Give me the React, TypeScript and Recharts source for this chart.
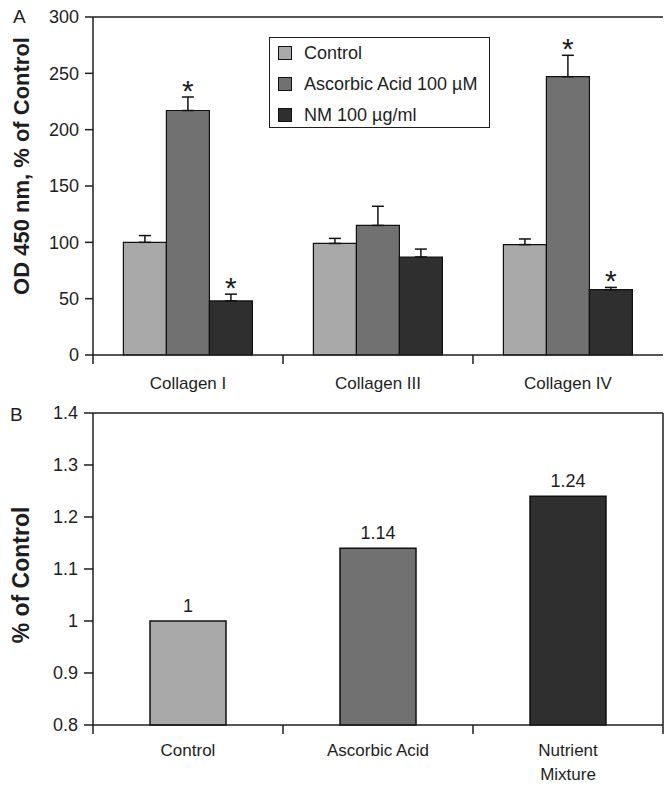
import { Bar, BarChart, Cell, ErrorBar, Label, LabelList, ReferenceLine, XAxis, YAxis } from "recharts";

const collagenTypes = ["Collagen I", "Collagen III", "Collagen IV"];
const seriesNames = ["Control", "Ascorbic Acid 100 µM", "NM 100 µg/ml"];
const controlValues = [100, 99, 98];
const controlErr = [6, 4.5, 5];
const ascorbicValues = [217, 115, 247];
const ascorbicErr = [12, 17, 19];
const nmValues = [48, 87, 58];
const nmErr = [6, 7, 2];
const ascorbicStars = ["*", "", "*"];
const nmStars = ["*", "", "*"];
const topTicks = [0, 50, 100, 150, 200, 250, 300];

const treatments = ["Control", "Ascorbic Acid", "Nutrient\nMixture"];
const ratioValues = [1, 1.14, 1.24];
const bottomTicks = [0.8, 0.9, 1, 1.1, 1.2, 1.3, 1.4];

const seriesFills = ["#a9a9a9", "#717171", "#2f2f2f"];
const FONT = '"Liberation Sans", Arial, sans-serif';
const INK = "#1e1e1e";

const topData = collagenTypes.map((name, i) => ({
  name,
  control: controlValues[i],
  controlErr: [0, controlErr[i]],
  ascorbic: ascorbicValues[i],
  ascorbicErr: [0, ascorbicErr[i]],
  nm: nmValues[i],
  nmErr: [0, nmErr[i]],
  ascorbicStar: ascorbicStars[i],
  nmStar: nmStars[i],
}));

const bottomData = treatments.map((name, i) => ({ name, value: ratioValues[i], label: String(ratioValues[i]) }));

// category label in the middle, small tick marks on the band boundaries
function CatTick(props: any) {
  const { x, y, payload, index, visibleTicksCount, closeRight, labelDy } = props;
  const half = payload && payload.offset > 0 ? payload.offset : 95;
  const lines = String(payload.value).split("\n");
  const last = index === (visibleTicksCount ?? 3) - 1;
  return (
    <g>
      <line x1={x - half} x2={x - half} y1={y} y2={y + 9} stroke={INK} strokeWidth={1.5} />
      {closeRight && last && <line x1={x + half} x2={x + half} y1={y} y2={y + 9} stroke={INK} strokeWidth={1.5} />}
      <text x={x} y={y + labelDy} textAnchor="middle" fontSize={17} fontFamily={FONT} fill={INK}>
        {lines.map((l, k) => (
          <tspan key={k} x={x} dy={k === 0 ? 0 : 24}>
            {l}
          </tspan>
        ))}
      </text>
    </g>
  );
}

function YTitle(props: any) {
  const { viewBox, text, shift, size } = props;
  const x = viewBox.x + 21;
  const y = viewBox.y + viewBox.height / 2 + shift;
  return (
    <text
      x={x}
      y={y}
      transform={`rotate(-90 ${x} ${y})`}
      textAnchor="middle"
      dominantBaseline="central"
      fontSize={size}
      fontWeight="bold"
      fontFamily={FONT}
      fill={INK}
    >
      {text}
    </text>
  );
}

// asterisk placed above the error bar cap
const starAbove = (vals: number[], errs: number[]) => (props: any) => {
  const { x, y, width, height, index, value } = props;
  if (!value) return null;
  const perUnit = height / vals[index];
  const top = y - errs[index] * perUnit;
  return (
    <text x={x + width / 2} y={top + 4} textAnchor="middle" fontSize={30} fontFamily={FONT} fill={INK}>
      {value}
    </text>
  );
};

const axisStyle = { stroke: INK, strokeWidth: 1.5 };
const tickText = { fontSize: 18, fontFamily: FONT, fill: INK };

export default function App() {
  return (
    <div style={{ position: "relative", width: 664, height: 786, background: "#fff", overflow: "hidden" }}>
      <style>{"body{margin:0;}"}</style>

      <div style={{ position: "absolute", left: 13, top: 6, fontSize: 19, fontFamily: FONT, color: INK }}>A</div>
      <div style={{ position: "absolute", left: 10, top: 404, fontSize: 19, fontFamily: FONT, color: INK }}>B</div>

      <div style={{ position: "absolute", left: 0, top: 0 }}>
        <BarChart
          width={664}
          height={395}
          data={topData}
          margin={{ top: 17, right: 1, bottom: 0, left: 0 }}
          barGap={0}
          barCategoryGap="16%"
        >
          <XAxis
            dataKey="name"
            height={40}
            interval={0}
            axisLine={axisStyle}
            tickLine={false}
            tickSize={0}
            tickMargin={0}
            tick={<CatTick labelDy={34} />}
          />
          <YAxis
            domain={[0, 300]}
            ticks={topTicks}
            width={93}
            axisLine={axisStyle}
            tickLine={axisStyle}
            tickSize={8}
            tickMargin={6}
            tick={tickText}
          >
            <Label content={<YTitle text="OD 450 nm, % of Control" shift={-20} size={22} />} />
          </YAxis>
          <ReferenceLine y={300} stroke={INK} strokeWidth={1.5} />
          <Bar dataKey="control" name={seriesNames[0]} fill={seriesFills[0]} stroke="#111" strokeWidth={1.2} isAnimationActive={false}>
            <ErrorBar dataKey="controlErr" width={6} stroke="#111" strokeWidth={1.5} />
          </Bar>
          <Bar dataKey="ascorbic" name={seriesNames[1]} fill={seriesFills[1]} stroke="#111" strokeWidth={1.2} isAnimationActive={false}>
            <ErrorBar dataKey="ascorbicErr" width={6} stroke="#111" strokeWidth={1.5} />
            <LabelList dataKey="ascorbicStar" content={starAbove(ascorbicValues, ascorbicErr)} />
          </Bar>
          <Bar dataKey="nm" name={seriesNames[2]} fill={seriesFills[2]} stroke="#111" strokeWidth={1.2} isAnimationActive={false}>
            <ErrorBar dataKey="nmErr" width={6} stroke="#111" strokeWidth={1.5} />
            <LabelList dataKey="nmStar" content={starAbove(nmValues, nmErr)} />
          </Bar>
        </BarChart>
      </div>

      <div
        style={{
          position: "absolute",
          left: 269,
          top: 37,
          width: 221,
          height: 91,
          border: `1.5px solid ${INK}`,
          boxSizing: "border-box",
          background: "#fff",
          fontFamily: FONT,
          fontSize: 18,
          color: INK,
        }}
      >
        {seriesNames.map((n, i) => (
          <div key={n} style={{ display: "flex", alignItems: "center", height: 30, marginTop: i === 0 ? 0 : 1 }}>
            <span
              style={{
                display: "inline-block",
                width: 12,
                height: 12,
                marginLeft: 8,
                marginRight: 12,
                background: seriesFills[i],
                border: "1px solid #111",
              }}
            />
            <span>{n}</span>
          </div>
        ))}
      </div>

      <div style={{ position: "absolute", left: 0, top: 380 }}>
        <BarChart
          width={664}
          height={405}
          data={bottomData}
          margin={{ top: 33, right: 0, bottom: 0, left: 0 }}
          barCategoryGap="30%"
        >
          <XAxis
            dataKey="name"
            height={60}
            interval={0}
            axisLine={axisStyle}
            tickLine={false}
            tickSize={0}
            tickMargin={0}
            tick={<CatTick labelDy={31} closeRight />}
          />
          <YAxis
            yAxisId="left"
            domain={[0.8, 1.4]}
            ticks={bottomTicks}
            width={93}
            axisLine={axisStyle}
            tickLine={axisStyle}
            tickSize={9}
            tickMargin={6}
            tick={tickText}
            tickFormatter={(v: number) => String(v)}
          >
            <Label content={<YTitle text="% of Control" shift={6} size={23} />} />
          </YAxis>
          <YAxis yAxisId="right" orientation="right" width={1} tick={false} tickLine={false} axisLine={axisStyle} />
          <ReferenceLine yAxisId="left" y={1.4} stroke={INK} strokeWidth={1.5} />
          <Bar yAxisId="left" dataKey="value" stroke="#111" strokeWidth={1.5} isAnimationActive={false}>
            {bottomData.map((d, i) => (
              <Cell key={d.name} fill={seriesFills[i]} />
            ))}
            <LabelList dataKey="label" position="top" offset={9} fontSize={18} fontFamily={FONT} fill={INK} />
          </Bar>
        </BarChart>
      </div>
    </div>
  );
}
